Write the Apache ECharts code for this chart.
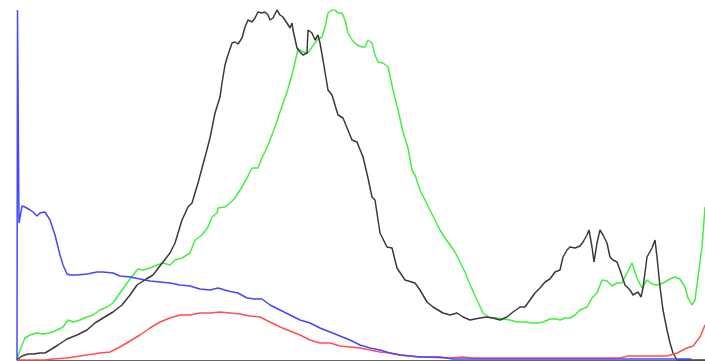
<!DOCTYPE html>
<html>
<head>
<meta charset="utf-8">
<script src="https://cdn.jsdelivr.net/npm/echarts@6/dist/echarts.min.js"></script>
<style>
  html, body { margin: 0; padding: 0; background: #fff; }
  #chart { width: 705px; height: 361px; }
</style>
</head>
<body>
<div id="chart"></div>
<script>
// values; x = position along the axis, y = height
const greenX = [0,3,8,13,20,26,33,40,46,51,56,63,70,76,83,90,96,103,110,116,121,126,133,140,146,153,158,165,173,178,185,191,195,200,201,208,213,218,223,230,235,241,245,251,258,263,270,275,278,281,286,291,295,300,305,308,311,315,318,321,325,328,331,335,340,345,348,351,355,358,361,366,371,376,381,386,391,395,398,403,408,413,418,423,428,433,438,443,448,451,460,466,473,480,486,493,500,508,515,520,526,533,540,543,548,553,558,563,570,575,580,585,590,595,600,605,610,615,620,625,630,635,640,646,653,658,663,668,671,675,678,681,685,688];
const greenY = [0,10,22,25,27,26,27,30,33,40,38,40,43,45,50,53,57,67,77,85,91,90,92,95,97,95,100,102,107,120,125,133,143,147,152,153,157,162,170,182,192,192,202,215,233,248,268,285,298,311,308,307,313,320,323,333,347,350,350,347,347,340,327,320,315,313,313,320,317,305,298,297,293,270,250,228,212,190,185,170,160,150,140,130,122,115,108,98,88,80,60,47,42,42,41,40,38,38,37,37,38,41,41,40,42,42,45,50,53,62,67,80,79,74,77,77,87,97,82,72,80,76,75,77,81,83,81,73,62,55,60,83,113,153];

const blackX = [0,5,11,16,23,28,33,41,50,60,70,78,86,96,105,113,120,126,136,146,153,158,165,171,175,181,188,193,198,203,205,208,210,215,218,221,225,228,231,235,238,241,245,248,251,253,256,260,263,266,270,273,275,276,280,283,286,290,291,295,298,301,303,306,311,315,321,326,335,340,346,351,355,358,363,370,375,380,388,398,403,410,416,426,433,440,446,453,463,470,476,483,490,496,503,508,513,518,523,528,533,538,543,546,550,553,558,563,566,570,572,575,577,580,583,586,590,593,596,600,603,608,613,616,621,624,626,630,635,638,640,643,646,650,653,656,660,688];
const blackY = [0,4,6,6,7,7,10,15,21,25,30,37,42,48,55,65,75,79,85,98,107,117,140,153,157,177,203,222,247,263,277,295,302,317,318,316,322,333,340,338,342,348,347,348,345,340,342,350,345,343,337,332,337,330,312,308,305,307,330,327,320,325,317,300,270,265,245,242,220,218,203,182,163,160,127,113,112,92,80,77,70,58,53,47,45,47,43,40,42,43,42,40,43,48,53,53,60,67,72,78,81,88,90,103,110,113,112,114,118,125,130,113,98,117,130,125,117,103,100,98,90,75,70,65,68,63,72,103,112,120,103,73,50,30,17,7,0,0];

const redX = [0,28,36,50,63,76,83,93,103,113,123,133,143,153,163,173,183,193,203,213,223,233,243,253,263,273,283,293,303,313,323,333,343,353,363,373,383,393,403,433,446,456,603,611,650,660,670,676,683,688];
const redY = [0,0,1,2,4,6,7,8,13,19,25,32,38,42,45,45,47,47,48,47,46,44,43,38,33,29,25,20,17,17,14,13,12,10,8,7,5,4,3,2,3,2,2,4,4,7,12,14,23,35];

const blueX = [0,0.5,2,5,8,13,16,20,23,28,33,38,43,46,50,53,60,70,80,86,96,103,113,123,133,143,153,163,173,183,193,201,211,221,230,238,245,253,263,273,283,293,303,313,323,333,343,353,363,373,383,393,403,423,436,673,675];
const blueY = [0,350,137,154,153,150,148,144,147,148,140,125,105,95,86,85,85,86,88,88,87,84,83,81,79,78,77,75,74,71,70,72,69,67,62,61,61,55,50,45,40,37,32,28,24,20,15,12,10,7,5,4,3,3,1,1,0];

const zip = (xs, ys) => xs.map((x, i) => [x, ys[i]]);

const chart = echarts.init(document.getElementById('chart'), null, { renderer: 'canvas' });

const line = (name, color, xs, ys) => ({
  name: name,
  type: 'line',
  data: zip(xs, ys),
  showSymbol: false,
  symbol: 'none',
  smooth: false,
  lineStyle: { color: color, width: 1.5 },
  itemStyle: { color: color }
});

chart.setOption({
  animation: false,
  grid: { left: 17, right: 0, top: 10, bottom: 1 },
  xAxis: {
    type: 'value',
    min: 0,
    max: 688,
    axisLine: { show: true, lineStyle: { color: '#666', width: 1 } },
    axisTick: { show: false },
    axisLabel: { show: false },
    splitLine: { show: false }
  },
  yAxis: {
    type: 'value',
    min: 0,
    max: 350,
    axisLine: { show: false },
    axisTick: { show: false },
    axisLabel: { show: false },
    splitLine: { show: false }
  },
  series: [
    line('green', '#3ff03f', greenX, greenY),
    line('black', '#3a3a3a', blackX, blackY),
    line('red', '#ff4f4f', redX, redY),
    line('blue', '#4646ff', blueX, blueY)
  ]
});
</script>
</body>
</html>
